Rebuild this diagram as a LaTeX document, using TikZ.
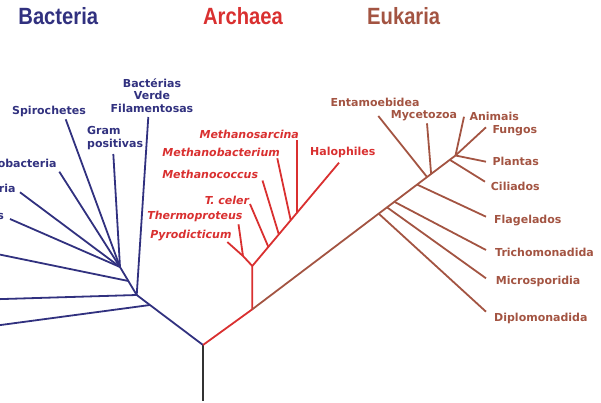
\documentclass[tikz,border=0pt]{standalone}
\usepackage{fontspec}
\setmainfont{DejaVu Sans}
\newfontfamily\titlefont[FakeStretch=0.86]{Liberation Sans}
\usetikzlibrary{calc}
\definecolor{bact}{HTML}{31317F}
\definecolor{arch}{HTML}{D93030}
\definecolor{euk}{HTML}{A35442}
\definecolor{stem}{HTML}{333333}
\tikzset{
  lbl/.style={inner sep=0pt, font=\fontsize{11}{13.5}\selectfont\bfseries},
  ilbl/.style={lbl, font=\fontsize{11}{13.5}\selectfont\bfseries\itshape},
  ttl/.style={inner sep=0pt, font=\titlefont\bfseries\fontsize{23.5}{26}\selectfont},
  br/.style={line width=1.8pt},
}
\begin{document}
\begin{tikzpicture}[x=1pt,y=-1pt]
\useasboundingbox (0,0) rectangle (601,403);
% ---------- titles
\node[ttl, text=bact] (tB) at (58.3,16) {Bacteria};
\node[ttl, text=arch] (tA) at (243,16) {Archaea};
\node[ttl, text=euk]  (tE) at (403.7,16) {Eukaria};
% ---------- root
\coordinate (R) at (203,345);
\coordinate (S) at (203,401);
\draw[br, stem, line width=2.3pt] (R) -- (S);
% ---------- Bacteria
\coordinate (B2) at (136.7,295);
\coordinate (B1) at ($(R)!0.8!(B2)$);
\coordinate (B4) at (120,267);
\coordinate (B3) at ($(B2)!0.5!(B4)$);
\coordinate (eL1) at (-3,325.5);
\coordinate (eL2) at (-3,299.2);
\coordinate (eL3) at (-3,254);
\coordinate (eFil) at (148.3,117);
\coordinate (eGram) at (113.3,154);
\coordinate (eSpi) at (65.7,119.3);
\coordinate (ePro) at (59.3,171.7);
\coordinate (eCya) at (20,192.3);
\coordinate (ePla) at (10,219);
\begin{scope}[bact, br]
\draw (R) -- (B2) -- (B4);
\draw (B1) -- (eL1);
\draw (B2) -- (eL2);
\draw (B2) -- (eFil);
\draw (B3) -- (eL3);
\draw (B4) -- (eGram);
\draw (B4) -- (eSpi);
\draw (B4) -- (ePro);
\draw (B4) -- (eCya);
\draw (B4) -- (ePla);
\end{scope}
\begin{scope}[text=bact]
\node[lbl] (nSpi) at (49,111) {Spirochetes};
\node[lbl, anchor=east] (nPro) at (56.7,163.5) {obacteria};
\node[lbl, anchor=east] (nCya) at (15.7,188) {ria};
\node[lbl, anchor=east] (nPla) at (4,216) {s};
\node[lbl, anchor=west, align=left] (nGram) at (87,138) {Gram\\positivas};
\node[lbl, align=center, font=\fontsize{11}{12.5}\selectfont\bfseries] (nFil) at (152,95.5) {Bactérias\\Verde\\Filamentosas};
\end{scope}
% ---------- Archaea
\coordinate (A1) at (252.3,309.3);
\coordinate (A2) at (252.3,266);
\coordinate (P) at (243,256);
\coordinate (eH) at (339,162.7);
\coordinate (eTc) at (250,204);
\coordinate (eMc) at (262.5,180.5);
\coordinate (eMb) at (277.3,158.3);
\coordinate (ePy) at (227.3,242);
\coordinate (eTh) at (238.5,224.3);
\coordinate (sTc) at ($(A2)!0.185!(eH)$);
\coordinate (sMc) at ($(A2)!0.306!(eH)$);
\coordinate (sMb) at ($(A2)!0.443!(eH)$);
\coordinate (sMs) at ($(A2)!0.516!(eH)$);
\coordinate (eMs) at (sMs |- 0,140);
\begin{scope}[arch, br]
\draw (R) -- (A1) -- (A2) -- (eH);
\draw (A2) -- (P);
\draw (P) -- (ePy);
\draw (P) -- (eTh);
\draw (sTc) -- (eTc);
\draw (sMc) -- (eMc);
\draw (sMb) -- (eMb);
\draw (sMs) -- (eMs);
\end{scope}
\begin{scope}[text=arch]
\node[ilbl, anchor=east] (nMs) at (299,134) {Methanosarcina};
\node[ilbl, anchor=east] (nMb) at (280,152.3) {Methanobacterium};
\node[ilbl, anchor=east] (nMc) at (258.3,174.3) {Methanococcus};
\node[ilbl, anchor=east] (nTc) at (249.3,200) {T. celer};
\node[ilbl, anchor=east] (nTh) at (242.7,216.7) {Thermoproteus};
\node[ilbl, anchor=east] (nPy) at (231.7,235.7) {Pyrodicticum};
\node[lbl, anchor=west] (nH) at (310,152.3) {Halophiles};
\end{scope}
% ---------- Eukaria
\coordinate (Et) at (455.5,155.5);
\coordinate (sDip) at ($(A1)!0.622!(Et)$);
\coordinate (sMic) at ($(A1)!0.663!(Et)$);
\coordinate (sTri) at ($(A1)!0.699!(Et)$);
\coordinate (sFla) at ($(A1)!0.811!(Et)$);
\coordinate (sEnt) at ($(A1)!0.860!(Et)$);
\coordinate (sMyc) at ($(A1)!0.880!(Et)$);
\coordinate (sCil) at ($(A1)!0.972!(Et)$);
\coordinate (eDip) at (486,311.7);
\coordinate (eMic) at (486,278.3);
\coordinate (eTri) at (486,250);
\coordinate (eFla) at (486,216.7);
\coordinate (eEnt) at (378.3,116);
\coordinate (eMyc) at (427,123.3);
\coordinate (eCil) at (485,181.7);
\coordinate (eAni) at (464,116.7);
\coordinate (eFun) at (486,127.3);
\coordinate (ePlt) at (486,161.7);
\begin{scope}[euk, br]
\draw (A1) -- (Et);
\draw (sDip) -- (eDip);
\draw (sMic) -- (eMic);
\draw (sTri) -- (eTri);
\draw (sFla) -- (eFla);
\draw (sEnt) -- (eEnt);
\draw (sMyc) -- (eMyc);
\draw (sCil) -- (eCil);
\draw (Et) -- (eAni);
\draw (Et) -- (eFun);
\draw (Et) -- (ePlt);
\end{scope}
\begin{scope}[text=euk]
\node[lbl] (nEnt) at (375,102.7) {Entamoebidea};
\node[lbl] (nMyc) at (424,116) {Mycetozoa};
\node[lbl, anchor=west] (nAni) at (469.3,116) {Animais};
\node[lbl, anchor=west] (nFun) at (492.3,131) {Fungos};
\node[lbl, anchor=west] (nPlt) at (492.3,161.7) {Plantas};
\node[lbl, anchor=west] (nCil) at (490.7,186.7) {Ciliados};
\node[lbl, anchor=west] (nFla) at (494,221) {Flagelados};
\node[lbl, anchor=west] (nTri) at (495,252.3) {Trichomonadida};
\node[lbl, anchor=west] (nMic) at (495.7,281.7) {Microsporidia};
\node[lbl, anchor=west] (nDip) at (494,318.3) {Diplomonadida};
\end{scope}
\end{tikzpicture}
\end{document}
